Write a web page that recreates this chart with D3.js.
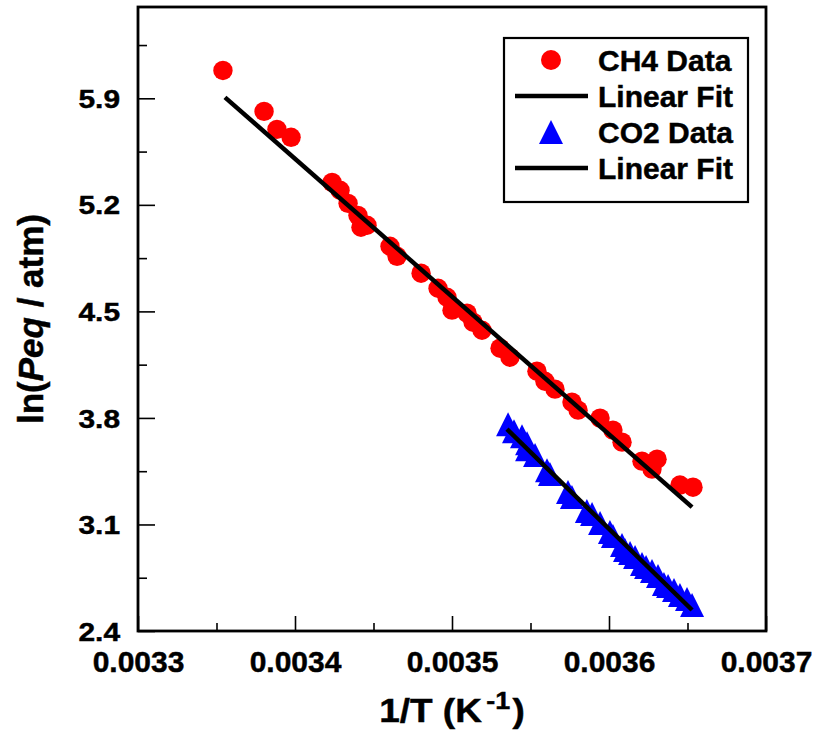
<!DOCTYPE html>
<html>
<head>
<meta charset="utf-8">
<script src="https://cdn.jsdelivr.net/npm/d3@7"></script>
<style>
  body { margin: 0; background: #fff; }
  svg { display: block; font-family: "Liberation Sans", Arial, Helvetica, sans-serif; font-weight: bold; }
  text { stroke: #000; stroke-width: 0.45px; }
</style>
</head>
<body>
<svg id="chart" width="817" height="733"></svg>
<script>
// CH4 data: 1/T (K^-1) and ln(Peq/atm)
const ch4X = [0.0033541, 0.0033803, 0.0033885, 0.0033975, 0.0034236, 0.0034287, 0.0034338,
  0.0034401, 0.003442, 0.0034459, 0.0034605, 0.003465, 0.0034803, 0.0034911, 0.0034968,
  0.0035, 0.0035096, 0.0035134, 0.0035191, 0.0035306, 0.0035369, 0.0035541, 0.0035592,
  0.0035656, 0.0035764, 0.0035803, 0.0035943, 0.0036025, 0.0036083, 0.003621, 0.0036306,
  0.0036274, 0.0036452, 0.0036535];
const ch4Y = [6.083, 5.814, 5.696, 5.644, 5.348, 5.296, 5.210,
  5.131, 5.053, 5.066, 4.928, 4.862, 4.751, 4.652, 4.593,
  4.508, 4.488, 4.429, 4.376, 4.258, 4.199, 4.107, 4.041,
  3.989, 3.904, 3.851, 3.799, 3.720, 3.641, 3.516, 3.529,
  3.464, 3.359, 3.345];

// CO2 data
const co2X = [0.0035357, 0.0035395, 0.0035446, 0.0035478, 0.0035478, 0.0035529, 0.0035605,
  0.0035624, 0.0035739, 0.0035764, 0.0035859, 0.0035892, 0.0035943, 0.0036006, 0.0036025,
  0.0036083, 0.0036102, 0.0036134, 0.0036166, 0.003621, 0.0036236, 0.0036274, 0.0036312,
  0.003635, 0.0036376, 0.0036414, 0.0036452, 0.0036497, 0.0036529];
const co2Y = [3.759, 3.713, 3.680, 3.634, 3.595, 3.556, 3.457,
  3.431, 3.313, 3.280, 3.188, 3.168, 3.109, 3.050, 3.024,
  2.965, 2.932, 2.912, 2.886, 2.840, 2.820, 2.794, 2.761,
  2.709, 2.695, 2.669, 2.636, 2.610, 2.571];

// linear fit end points
const ch4FitX = [0.0033554, 0.0036529];
const ch4FitY = [5.906, 3.214];
const co2FitX = [0.003535, 0.0036529];
const co2FitY = [3.726, 2.538];

// ticks
const xMajor = [0.0033, 0.0034, 0.0035, 0.0036, 0.0037];
const xMinor = [0.00335, 0.00345, 0.00355, 0.00365];
const yMajor = [2.4, 3.1, 3.8, 4.5, 5.2, 5.9];
const yMinor = [2.75, 3.45, 4.15, 4.85, 5.55, 6.25];

const legendItems = ["CH4 Data", "Linear Fit", "CO2 Data", "Linear Fit"];

const margin = {left: 138, top: 7, right: 51, bottom: 102};
const W = 817, H = 733;
const svg = d3.select("#chart");

let x = d3.scaleLinear().domain([0.0033, 0.0037]).range([margin.left, W - margin.right]);
let y = d3.scaleLinear().domain([2.4, 6.5]).range([H - margin.bottom, margin.top]);

// triangle marker, as wide as it is tall
const tri = s => `M0,${-s}L${s},${s}L${-s},${s}Z`;

// minor ticks
svg.append("g")
  .attr("transform", `translate(0,${y.range()[0]})`)
  .call(d3.axisBottom(x).tickValues(xMinor).tickSize(-8).tickFormat(""))
  .call(g => g.select(".domain").remove())
  .selectAll("line").attr("stroke-width", 1.6);
svg.append("g")
  .attr("transform", `translate(${x.range()[0]},0)`)
  .call(d3.axisLeft(y).tickValues(yMinor).tickSize(-9).tickFormat(""))
  .call(g => g.select(".domain").remove())
  .selectAll("line").attr("stroke-width", 1.6);

// major ticks
let xAxis = svg.append("g")
  .attr("transform", `translate(0,${y.range()[0]})`)
  .call(d3.axisBottom(x).tickValues(xMajor).tickSize(-15).tickFormat(d3.format(".4f")));
xAxis.select(".domain").remove();
xAxis.selectAll("line").attr("stroke-width", 1.6);
xAxis.selectAll("text")
  .attr("y", 41).attr("dy", null)
  .attr("font-size", 30).attr("font-weight", "bold")
  .attr("font-family", "Liberation Sans, Arial, sans-serif")
  .attr("fill", "#000");

let yAxis = svg.append("g")
  .attr("transform", `translate(${x.range()[0]},0)`)
  .call(d3.axisLeft(y).tickValues(yMajor).tickSize(-17).tickFormat(d3.format(".1f")));
yAxis.select(".domain").remove();
yAxis.selectAll("line").attr("stroke-width", 1.6);
yAxis.selectAll("text")
  .attr("x", -18 / 1.15).attr("dy", "0.35em")
  .attr("transform", "scale(1.15,1)")
  .attr("font-size", 26).attr("font-weight", "bold")
  .attr("font-family", "Liberation Sans, Arial, sans-serif")
  .attr("fill", "#000");

// frame
svg.append("rect")
  .attr("x", x.range()[0]).attr("y", y.range()[1])
  .attr("width", x.range()[1] - x.range()[0])
  .attr("height", y.range()[0] - y.range()[1])
  .attr("fill", "none").attr("stroke", "#000").attr("stroke-width", 2.8);

// data
svg.append("g").selectAll("circle")
  .data(ch4X)
  .enter().append("circle")
  .attr("cx", d => x(d))
  .attr("cy", (d, i) => y(ch4Y[i]))
  .attr("r", 9.7)
  .attr("fill", "#ff0000");

svg.append("g").selectAll("path")
  .data(co2X)
  .enter().append("path")
  .attr("d", tri(12))
  .attr("transform", (d, i) => `translate(${x(d)},${y(co2Y[i])})`)
  .attr("fill", "#0000ff");

// fits
let line = d3.line().x(d => x(d[0])).y(d => y(d[1]));
svg.append("path")
  .attr("d", line(d3.zip(ch4FitX, ch4FitY)))
  .attr("stroke", "#000").attr("stroke-width", 4.5).attr("fill", "none");
svg.append("path")
  .attr("d", line(d3.zip(co2FitX, co2FitY)))
  .attr("stroke", "#000").attr("stroke-width", 4.5).attr("fill", "none");

// legend
let legend = svg.append("g").attr("transform", "translate(504,38)");
legend.append("rect")
  .attr("width", 244).attr("height", 164)
  .attr("fill", "#fff").attr("stroke", "#000").attr("stroke-width", 2.2);
let rows = legend.selectAll("g.row")
  .data(legendItems)
  .enter().append("g")
  .attr("class", "row")
  .attr("transform", (d, i) => `translate(0,${33 + i * 36})`);
rows.append("text")
  .attr("x", 94).attr("font-size", 30)
  .text(d => d);
rows.each(function(d, i) {
  let g = d3.select(this);
  if (i === 0) {
    g.append("circle").attr("cx", 47).attr("cy", -11).attr("r", 10).attr("fill", "#ff0000");
  } else if (i === 2) {
    g.append("path").attr("d", tri(12)).attr("transform", "translate(47,-11)").attr("fill", "#0000ff");
  } else {
    g.append("line").attr("x1", 11).attr("x2", 84).attr("y1", -11).attr("y2", -11)
      .attr("stroke", "#000").attr("stroke-width", 4.3);
  }
});

// axis titles
let xt = svg.append("text")
  .attr("transform", `translate(${(x.range()[0] + x.range()[1]) / 2},722) scale(1.12,1)`)
  .attr("text-anchor", "middle").attr("font-size", 33);
xt.append("tspan").text("1/T (K");
xt.append("tspan").attr("dx", 4).attr("dy", -13).attr("font-size", 24).text("-1");
xt.append("tspan").attr("dx", 2).attr("dy", 13).text(")");

let yt = svg.append("text")
  .attr("transform", `translate(43,${(y.range()[0] + y.range()[1]) / 2}) rotate(-90)`)
  .attr("text-anchor", "middle").attr("font-size", 35);
yt.append("tspan").text("ln(");
yt.append("tspan").attr("font-style", "italic").text("Peq");
yt.append("tspan").text(" / atm)");
</script>
</body>
</html>
